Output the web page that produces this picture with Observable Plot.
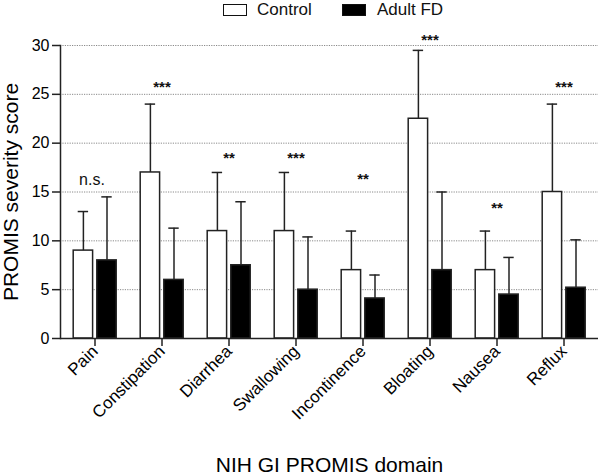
<!DOCTYPE html>
<html><head><meta charset="utf-8">
<script src="https://cdn.jsdelivr.net/npm/d3@7"></script>
<script src="https://cdn.jsdelivr.net/npm/@observablehq/plot@0.6"></script>
<style>
body{margin:0;background:#fff;font-family:"Liberation Sans",Arial,sans-serif;}
#wrap{position:relative;width:600px;height:475px;overflow:hidden;}
#wrap svg{position:absolute;left:0;top:0;}
.lg{position:absolute;top:0;height:18px;font-size:17px;line-height:18px;color:#111;}
.sw{position:absolute;box-sizing:border-box;border:1.5px solid #111;}
</style></head><body><div id="wrap"></div>
<script>
const categories = ["Pain","Constipation","Diarrhea","Swallowing","Incontinence","Bloating","Nausea","Reflux"];
const controlMean = [9, 17, 11, 11, 7, 22.5, 7, 15];
const controlUpper = [13, 24, 17, 17, 11, 29.5, 11, 24];
const fdMean = [8, 6, 7.5, 5, 4.1, 7, 4.5, 5.2];
const fdUpper = [14.5, 11.3, 14, 10.4, 6.5, 15, 8.3, 10.1];
const sigLabels = ["n.s.","***","**","***","**","***","**","***"];
const sigY = [15.7, 25.2, 18.0, 18.0, 15.8, 30.05, 12.86, 25.2];
const yTicks = [0, 5, 10, 15, 20, 25, 30];
const seriesNames = ["Control", "Adult FD"];
const seriesFill = ["#ffffff", "#000000"];

const rows = categories.map((c, i) => ({
  category: c, control: controlMean[i], controlUp: controlUpper[i],
  fd: fdMean[i], fdUp: fdUpper[i], sig: sigLabels[i], sigY: sigY[i]
}));

const FONT = '"Liberation Sans", Arial, Helvetica, sans-serif';
const INK = "#222";

const plot = Plot.plot({
  width: 600, height: 475,
  marginLeft: 60, marginRight: 2, marginTop: 45, marginBottom: 137,
  style: {fontFamily: FONT, background: "#fff", color: "#000", overflow: "visible"},
  x: {domain: categories, range: [59, 599.6], padding: 0},
  y: {domain: [0, 30], range: [338, 45]},
  marks: [
    Plot.gridY(yTicks.filter(d => d > 0), {stroke: "#8a8a8a", strokeOpacity: 1, strokeWidth: 1, strokeDasharray: "1.2,1.2"}),
    Plot.barY(rows, {x: "category", y: "control", fill: seriesFill[0], stroke: INK, strokeWidth: 1.5, insetLeft: 12.2, insetRight: 35.4}),
    Plot.barY(rows, {x: "category", y: "fd", fill: seriesFill[1], stroke: INK, strokeWidth: 1.5, insetLeft: 35.8, insetRight: 11.8}),
    Plot.ruleX(rows, {x: "category", y1: "control", y2: "controlUp", dx: -11.6, stroke: INK, strokeWidth: 1.5}),
    Plot.ruleX(rows, {x: "category", y1: "fd", y2: "fdUp", dx: 12, stroke: INK, strokeWidth: 1.5}),
    Plot.tickY(rows, {x: "category", y: "controlUp", stroke: INK, strokeWidth: 1.5, insetLeft: 16.7, insetRight: 39.9}),
    Plot.tickY(rows, {x: "category", y: "fdUp", stroke: INK, strokeWidth: 1.5, insetLeft: 40.3, insetRight: 16.3}),
    Plot.ruleY([0], {stroke: INK, strokeWidth: 1.5}),
    Plot.frame({anchor: "left", stroke: INK, strokeWidth: 1.5}),
    Plot.axisY({ticks: yTicks, tickSize: 8, tickPadding: 3, fontSize: 16, stroke: INK, strokeWidth: 1.5,
      label: "PROMIS severity score", labelAnchor: "center", labelArrow: "none", labelOffset: 57}),
    Plot.axisX({tickRotate: -45, tickSize: 8, tickPadding: 2, fontSize: 17, stroke: INK, strokeWidth: 1.5,
      label: "NIH GI PROMIS domain", labelAnchor: "center", labelArrow: "none", labelOffset: 133}),
    Plot.text(rows.filter(d => d.sig === "n.s."), {x: "category", y: "sigY", text: "sig", dx: -3, lineAnchor: "bottom", fontSize: 16, fill: "#111"}),
    Plot.text(rows.filter(d => d.sig !== "n.s."), {x: "category", y: "sigY", text: "sig", lineAnchor: "bottom", fontSize: 15, fontWeight: "bold", fill: "#111"})
  ]
});
function setFont(sel, px) {
  plot.querySelectorAll(sel).forEach(g => {
    g.style.fontSize = px + "px";
    g.querySelectorAll("text").forEach(t => { t.style.fontSize = px + "px"; });
  });
}
setFont("g[aria-label='y-axis label']", 21);
setFont("g[aria-label='x-axis label']", 21);

const wrap = document.getElementById("wrap");
wrap.appendChild(plot);
// legend
const legendPos = [{box: 223, text: 257}, {box: 342, text: 377}];
seriesNames.forEach((name, i) => {
  const sw = document.createElement("div");
  sw.className = "sw";
  sw.style.left = legendPos[i].box + "px"; sw.style.top = "3.5px";
  sw.style.width = "24px"; sw.style.height = "12.5px";
  sw.style.background = seriesFill[i];
  wrap.appendChild(sw);
  const t = document.createElement("div");
  t.className = "lg"; t.textContent = name;
  t.style.left = legendPos[i].text + "px"; t.style.top = "1px";
  wrap.appendChild(t);
});
</script></body></html>
